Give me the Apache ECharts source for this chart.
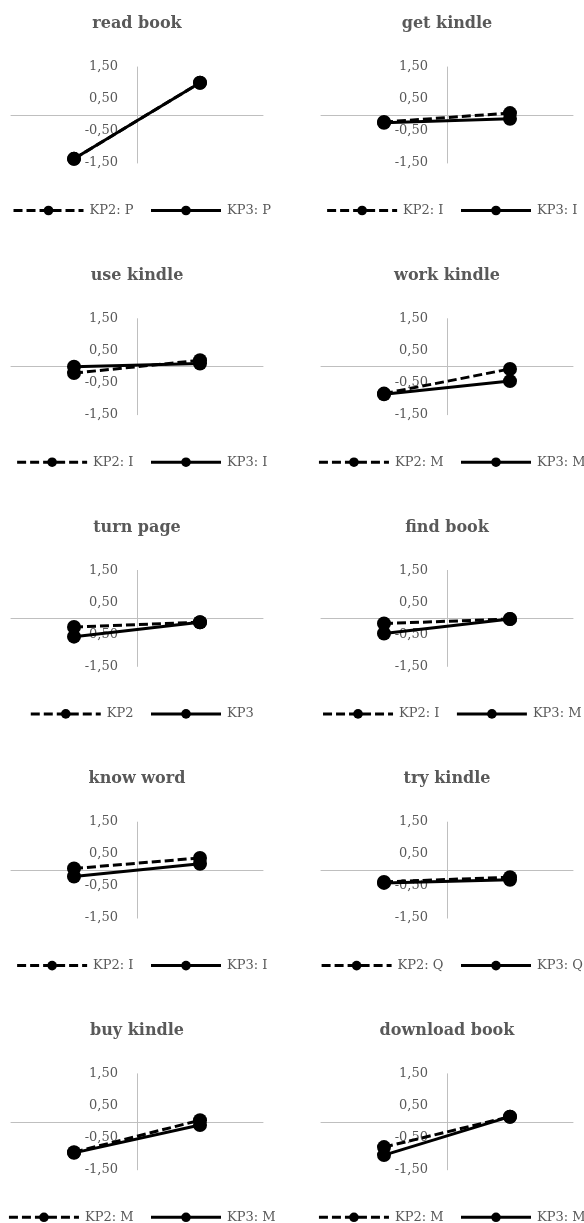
<!DOCTYPE html>
<html>
<head>
<meta charset="utf-8">
<script src="https://cdn.jsdelivr.net/npm/echarts@6/dist/echarts.min.js"></script>
<style>
html,body{margin:0;padding:0;background:#fff;overflow:hidden;}
#chart{width:584px;height:1223px;}
</style>
</head>
<body>
<div id="chart"></div>
<script>
// ---- data ----
const panelTitles = ['read book','get kindle','use kindle','work kindle','turn page','find book','know word','try kindle','buy kindle','download book'];
const kp2Names = ['KP2: P','KP2: I','KP2: I','KP2: M','KP2','KP2: I','KP2: I','KP2: Q','KP2: M','KP2: M'];
const kp3Names = ['KP3: P','KP3: I','KP3: I','KP3: M','KP3','KP3: M','KP3: I','KP3: Q','KP3: M','KP3: M'];
const xPos = [-1, 1];
const kp2Start = [-1.37, -0.22, -0.2, -0.84, -0.27, -0.16, 0.05, -0.37, -0.95, -0.79];
const kp2End   = [ 1.01,  0.06,  0.2, -0.07, -0.12, -0.02, 0.38, -0.22,  0.05,  0.16];
const kp3Start = [-1.37, -0.24,  0.0, -0.86, -0.57, -0.47, -0.2, -0.40, -0.97, -1.04];
const kp3End   = [ 1.01, -0.12,  0.1, -0.45, -0.12, -0.02, 0.2, -0.30, -0.10,  0.16];

// ---- layout ----
const FONT = '"DejaVu Serif", serif';
const TXT = '#595959';
const AX = '#bfbfbf';
const rowH = 251.7;
const colLeft = [11, 321];
const plotW = 252;

const measure = (function(){
  const c = document.createElement('canvas').getContext('2d');
  c.font = '13px ' + FONT;
  return t => c.measureText(t).width;
})();

const grids = [], xAxes = [], yAxes = [], series = [], titles = [], legends = [];
panelTitles.forEach((t, i) => {
  const r = Math.floor(i / 2), c = i % 2;
  const top = rowH * r;
  const left = colLeft[c];
  const cx = left + plotW / 2;
  grids.push({left: left, top: top + 67, width: plotW, height: 96,
    containLabel: false, outerBoundsMode: 'none'});
  xAxes.push({
    type: 'value', gridIndex: i, min: -2, max: 2,
    axisLine: {show: true, onZero: true, lineStyle: {color: AX, width: 1}},
    axisTick: {show: false}, axisLabel: {show: false}, splitLine: {show: false}
  });
  yAxes.push({
    type: 'value', gridIndex: i, min: -1.5, max: 1.5, interval: 1,
    axisLine: {show: true, onZero: true, lineStyle: {color: AX, width: 1}},
    axisTick: {show: false}, splitLine: {show: false},
    axisLabel: {color: TXT, fontFamily: FONT, fontSize: 13,
      margin: -(plotW / 2 - 19),
      formatter: v => v.toFixed(2).replace('.', ',')}
  });
  titles.push({
    text: t, left: cx, top: top + 16, textAlign: 'center', padding: 0,
    textStyle: {color: TXT, fontFamily: FONT, fontSize: 16, fontWeight: 'bold'}
  });
  const w = 70 + 6 + measure(kp2Names[i]) + 16 + 70 + 6 + measure(kp3Names[i]);
  legends.push({
    data: [kp2Names[i], kp3Names[i]],
    left: cx - w / 2 + 3, top: top + 204, width: 340, padding: 0,
    itemWidth: 70, itemHeight: 12, itemGap: 16,
    textStyle: {color: TXT, fontFamily: FONT, fontSize: 13, padding: [0, 0, 0, 1]},
    lineStyle: {width: 3},
    selectedMode: false
  });
  series.push({
    name: kp2Names[i], type: 'line', xAxisIndex: i, yAxisIndex: i,
    data: [[xPos[0], kp2Start[i]], [xPos[1], kp2End[i]]],
    symbol: 'circle', symbolSize: 14,
    lineStyle: {color: '#000', width: 3, type: [9, 4]},
    itemStyle: {color: '#000'}, z: 3, animation: false
  });
  series.push({
    name: kp3Names[i], type: 'line', xAxisIndex: i, yAxisIndex: i,
    data: [[xPos[0], kp3Start[i]], [xPos[1], kp3End[i]]],
    symbol: 'circle', symbolSize: 14,
    lineStyle: {color: '#000', width: 3, type: 'solid'},
    itemStyle: {color: '#000'}, z: 4, animation: false
  });
});

const chart = echarts.init(document.getElementById('chart'), null, {renderer: 'canvas'});
chart.setOption({
  backgroundColor: '#fff',
  animation: false,
  title: titles,
  legend: legends,
  grid: grids,
  xAxis: xAxes,
  yAxis: yAxes,
  series: series
});
</script>
</body>
</html>
